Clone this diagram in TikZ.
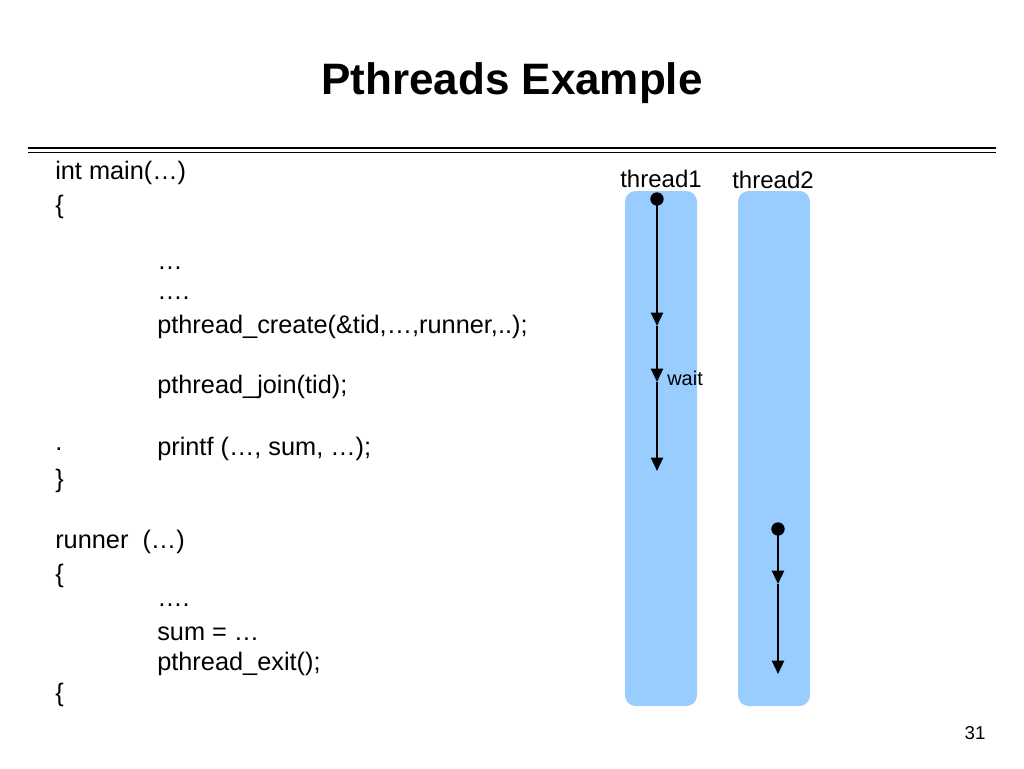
\documentclass[tikz,border=0pt]{standalone}
\usepackage{fontspec}
\setmainfont{Liberation Sans}
\usetikzlibrary{arrows.meta, positioning}
\definecolor{barblue}{RGB}{153,204,255}
\tikzset{
  >={Triangle[length=10pt,width=9pt]},
  code/.style = {anchor=west, inner sep=0pt, font=\fontsize{19}{22}\selectfont},
  bar/.style = {fill=barblue, draw=none, rounded corners=8pt},
  dot/.style = {circle, fill=black, inner sep=0pt, minimum size=10pt},
}
\begin{document}
\begin{tikzpicture}[x=0.75pt, y=-0.75pt,
        flow/.style = {->, line width=1.8pt},
        label/.style = {inner sep=0pt, font=\fontsize{18}{21}\selectfont},
    ]
    \useasboundingbox (0,0) rectangle (1024,768);

    % title
    \node[font=\bfseries\fontsize{33}{38}\selectfont] (title) at (512,83) {Pthreads Example};
    \draw[line width=1.1pt] (28,148) -- (996,148);
    \draw[line width=1.1pt] (28,152.5) -- (996,152.5);

    % code
    \node[code] (l1)  at (55,173) {int main(…)};
    \node[code] (l2)  at (55,207) {\{};
    \node[code] (l3)  at (157,268) {…};
    \node[code] (l4)  at (157,298) {….};
    \node[code] (l5)  at (157,327) {pthread\_create(\&tid,…,runner,..);};
    \node[code] (l6)  at (157,387) {pthread\_join(tid);};
    \node[code] (l7a) at (55,449) {.};
    \node[code] (l7)  at (157,449) {printf (…, sum, …);};
    \node[code] (l8)  at (55,481) {\}};
    \node[code] (l9)  at (55,542) {runner\ \ (…)};
    \node[code] (l10) at (55,576) {\{};
    \node[code] (l11) at (157,605) {….};
    \node[code] (l12) at (157,634) {sum = …};
    \node[code] (l13) at (157,664) {pthread\_exit();};
    \node[code] (l14) at (55,695) {\{};

    % threads
    \fill[bar] (625,191) rectangle (697,706);
    \fill[bar] (738,191) rectangle (810,706);
    \node[label] (t1) at (661,179) {thread1};
    \node[label] (t2) at (773,180) {thread2};

    \node[dot] (s1) at (657,199) {};
    \coordinate (a1) at (657,326);
    \coordinate (a2) at (657,382);
    \coordinate (a3) at (657,471);
    \draw[flow] (s1.center) -- (a1);
    \draw[flow] (a1) -- (a2);
    \draw[flow] (a2) -- (a3);
    \node[label, font=\fontsize{15}{17}\selectfont, anchor=west] (wait) at (667,378) {wait};

    \node[dot] (s2) at (778,529) {};
    \coordinate (b1) at (778,584);
    \coordinate (b2) at (778,674);
    \draw[flow] (s2.center) -- (b1);
    \draw[flow] (b1) -- (b2);

    \node[label, font=\fontsize{14}{16}\selectfont] (page) at (975,733) {31};
\end{tikzpicture}
\end{document}
